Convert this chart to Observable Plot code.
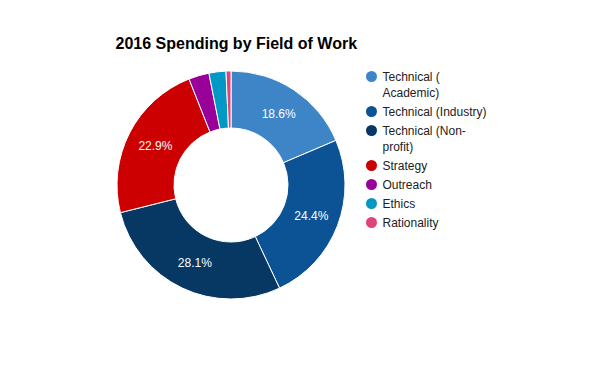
<!DOCTYPE html>
<html><head><meta charset="utf-8">
<script src="https://cdn.jsdelivr.net/npm/d3@7"></script>
<script src="https://cdn.jsdelivr.net/npm/@observablehq/plot@0.6"></script>
<style>body{margin:0;background:#fff} #chart{width:602px;height:368px}</style>
</head><body><div id="chart"></div>
<script>
const title = "2016 Spending by Field of Work";
const categories = ["Technical (Academic)", "Technical (Industry)", "Technical (Non-profit)", "Strategy", "Outreach", "Ethics", "Rationality"];
const legendLabels = ["Technical (\nAcademic)", "Technical (Industry)", "Technical (Non-\nprofit)", "Strategy", "Outreach", "Ethics", "Rationality"];
const shares = [18.6, 24.4, 28.1, 22.9, 2.9, 2.4, 0.7];
const colors = ["#3d85c6", "#0b5394", "#073763", "#cc0000", "#990099", "#0099c6", "#dd4477"];

// layout
const W = 602, H = 368;
const cx = 231, cy = 185, outerR = 114, innerR = 57;
const legendX = 371, legendTextX = 382, legendY0 = 76, legendGap = 19, legendLine = 16;
const font = "'Liberation Sans', Arial, sans-serif";

const rows = categories.map((c, i) => ({category: c, share: shares[i], legend: legendLabels[i]}));
const pie = d3.pie().sort(null).value(d => d.share);
const arcs = pie(rows);
const arcGen = d3.arc().innerRadius(innerR).outerRadius(outerR);
const color = Plot.scale({color: {domain: categories, range: colors}});

const labelRows = arcs.filter(a => a.data.share >= 5).map(a => {
  const [x, y] = arcGen.centroid(a);
  return {x: cx + x, y: cy + y, text: a.data.share.toFixed(1) + "%"};
});

let yy = legendY0;
const legendRows = rows.map(r => {
  const n = r.legend.split("\n").length;
  const o = {...r, cy: yy, fill: color.apply(r.category)};
  yy += (n - 1) * legendLine + legendGap;
  return o;
});

const slices = () => {
  const g = d3.create("svg:g").attr("transform", `translate(${cx},${cy})`);
  g.selectAll("path").data(arcs).join("path")
    .attr("d", arcGen)
    .attr("fill", d => color.apply(d.data.category))
    .attr("stroke", "#fff").attr("stroke-width", 1);
  return g.node();
};

const chart = Plot.plot({
  width: W, height: H, margin: 0,
  x: {type: "identity", axis: null},
  y: {type: "identity", axis: null},
  style: {fontFamily: font, background: "#fff", overflow: "visible"},
  marks: [
    slices,
    Plot.text(labelRows, {x: "x", y: "y", text: "text", fill: "#fff", fontSize: 12}),
    Plot.dot(legendRows, {x: () => legendX, y: "cy", r: 5.5, fill: "fill", stroke: null}),
    Plot.text(legendRows, {x: () => legendTextX, y: d => d.cy - 7, text: "legend", textAnchor: "start", lineAnchor: "top", lineHeight: legendLine / 12, fontSize: 12, fill: "#222"}),
    Plot.text([title], {x: () => 115, y: () => 48, text: d => d, textAnchor: "start", lineAnchor: "bottom", fontSize: 16, fontWeight: "bold", fill: "#000"})
  ]
});
document.getElementById("chart").append(chart);
</script>
</body></html>
